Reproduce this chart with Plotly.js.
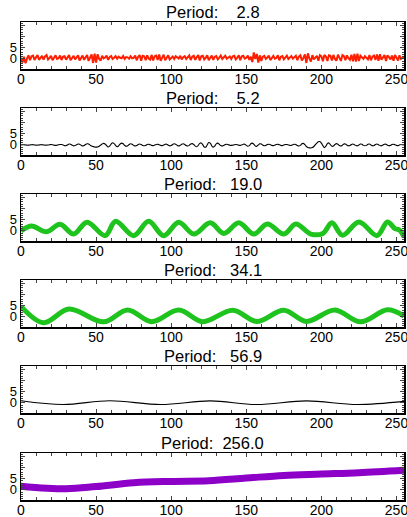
<!DOCTYPE html>
<html>
<head>
<meta charset="utf-8">
<script src="https://cdn.plot.ly/plotly-3.0.1.min.js"></script>
<style>html,body{margin:0;padding:0;background:#fff;}#chart{width:407px;height:517px;}</style>
</head>
<body>
<div id="chart"></div>
<script>
// ---- data ----
const periods = ["2.8", "5.2", "19.0", "34.1", "56.9", "256.0"];

const p1y = [
 0.5,-1.6,1.0,-1.9,0.1,1.6,-0.6,1.2,1.5,-0.5,0.7,1.7,-0.4,0.5,1.4,-0.3,
 1.2,1.8,-0.2,0.4,1.4,-0.6,0.8,1.6,0.0,0.3,1.5,-0.5,1.0,1.2,-0.3,0.6,
 1.7,-0.6,0.5,1.4,-0.2,1.0,1.6,-0.7,0.6,1.5,-0.4,0.4,1.7,-0.9,0.8,2.0,
 -1.8,2.3,-1.6,2.1,0.1,-0.8,1.4,0.2,0.6,1.5,-0.4,0.8,1.3,0.0,0.5,1.2,
 0.1,1.0,0.5,0.3,1.3,0.0,0.8,0.7,0.1,1.2,0.3,0.5,1.5,-0.6,1.0,1.7,
 -0.8,1.4,1.2,-0.6,1.6,0.2,-0.3,1.8,-0.7,1.2,1.5,-0.5,2.0,-0.8,0.6,1.9,
 -0.6,0.3,1.6,-0.2,0.5,1.1,0.0,1.2,0.7,0.2,1.4,-0.2,0.8,1.2,0.0,0.6,
 1.5,-0.5,1.0,1.4,-0.4,0.8,1.7,-0.7,1.2,1.4,-0.2,0.5,1.6,-0.6,0.8,1.5,
 -0.4,1.0,1.3,-0.2,0.6,1.5,0.0,0.5,1.4,0.1,0.8,1.1,0.0,1.2,1.4,-0.2,
 0.6,1.6,-0.6,1.2,1.4,0.1,0.5,1.5,-0.4,1.0,-1.4,2.9,0.0,2.2,-1.6,1.6,
 -0.9,1.0,1.4,0.0,0.6,1.5,-0.5,0.8,1.4,0.1,0.4,1.6,-0.6,1.0,1.3,-0.2,
 0.6,1.5,0.0,0.5,1.3,0.1,0.8,1.4,-0.5,1.0,1.6,-0.7,0.4,2.0,-1.8,2.5,
 0.2,-1.2,1.7,-0.2,0.6,1.4,-0.8,1.7,1.2,-1.0,1.8,1.1,-0.9,1.6,1.4,-0.7,
 1.8,0.0,-0.8,1.9,0.6,-0.9,1.7,1.2,-0.6,1.6,0.3,-0.4,1.9,-1.0,2.2,-1.2,
 2.3,-0.9,1.4,0.8,0.0,1.2,0.6,-0.2,1.7,-0.6,1.0,1.5,-0.4,2.0,-0.8,2.1,
 -0.4,0.5,1.7,-0.9,1.6,0.8,-0.2,1.5,-0.8,1.8,0.6,-0.7,1.6,0.0,0.5,1.1
];

const p2y = [
 0.0,0.1,0.1,0.0,-0.1,-0.1,0.0,0.1,0.1,0.0,-0.1,-0.1,0.0,0.1,0.1,0.0,
 -0.1,-0.1,0.0,0.1,0.2,0.1,-0.1,-0.2,-0.1,0.1,0.2,0.2,0.0,-0.3,-0.3,0.0,
 0.4,0.3,-0.1,-0.4,-0.3,0.1,0.4,0.3,-0.1,-0.5,-0.3,0.2,0.5,0.4,-0.1,-0.5,
 -0.7,-0.9,-1.0,-0.9,-0.6,-0.1,0.4,0.7,0.4,-0.3,-0.9,-0.5,0.4,1.0,0.6,-0.2,
 -0.8,-0.4,0.4,0.8,0.5,-0.2,-0.6,-0.4,0.2,0.5,0.3,-0.2,-0.5,-0.3,0.2,0.4,
 0.2,-0.2,-0.4,-0.2,0.2,0.3,0.1,-0.2,-0.3,-0.1,0.2,0.3,0.1,-0.2,-0.3,0.0,
 0.3,0.3,-0.1,-0.4,-0.3,0.2,0.5,0.3,-0.2,-0.5,-0.2,0.3,0.5,0.2,-0.3,-0.5,
 -0.2,0.4,0.6,0.2,-0.5,-0.8,-0.2,0.7,0.9,0.1,-0.9,-1.0,0.1,1.1,0.8,-0.4,
 -1.0,-0.5,0.5,0.8,0.3,-0.3,-0.5,-0.2,0.2,0.3,0.1,-0.1,-0.2,-0.1,0.1,0.2,
 0.1,-0.1,-0.2,0.0,0.3,0.3,-0.2,-0.6,-0.3,0.5,0.8,0.3,-0.5,-0.6,0.0,0.5,
 0.4,-0.1,-0.4,-0.2,0.2,0.3,0.1,-0.2,-0.3,-0.1,0.2,0.3,0.1,-0.2,-0.3,0.0,
 0.2,0.2,0.0,-0.2,-0.2,0.1,0.3,0.2,-0.3,-0.5,-0.2,0.5,0.7,0.1,-0.7,-1.1,
 -1.3,-1.4,-1.2,-0.7,0.1,0.8,1.4,1.5,0.8,-0.3,-1.2,-0.5,0.6,0.9,0.1,-0.6,
 -0.5,0.2,0.6,0.3,-0.3,-0.5,-0.1,0.4,0.4,-0.1,-0.4,-0.3,0.2,0.4,0.1,-0.3,
 -0.4,0.0,0.4,0.3,-0.2,-0.4,-0.2,0.3,0.4,0.0,-0.4,-0.3,0.2,0.4,0.1,-0.3,
 -0.4,0.0,0.3,0.3,-0.1,-0.3,-0.2,0.2,0.3,0.1,-0.2,-0.3,0.0,0.2,0.1,0.0
];

const p3x = [0,7,17,26,35,44,56,63,75,85,95,105,115,126,135,145,155,164,175,183,193,201,207,214,225,237,244,249,252,255];
const p3y = [0.0,2.2,-0.4,3.0,-1.4,3.9,-2.1,4.3,-2.1,4.3,-2.1,3.9,-1.4,3.6,-1.1,3.6,-1.4,3.1,-1.4,3.1,-1.4,-1.1,3.6,-1.9,4.0,-2.1,4.0,1.0,0.4,-2.6];

const p4x = [0,15,32,55,71,87,105,121,141,157,175,190,209,226,244,255];
const p4y = [4.7,-2.6,3.5,-2.2,3.1,-2.1,3.1,-2.1,3.0,-2.0,3.0,-2.0,3.1,-2.2,3.2,0.4];

const p5x = [0,28,59,93,126,157,190,224,255];
const p5y = [1.0,-0.7,1.0,-0.7,0.9,-0.7,0.9,-0.7,0.7];

const p6x = [0,30,50,75,100,125,150,175,200,225,255];
const p6y = [1.7,0.5,1.5,3.2,3.8,4.1,5.3,6.5,7.1,7.7,8.8];

const xTickVals = [0,50,100,150,200,250];
const yTickVals = [-5,0,5,10,15];
const yTickText = ["","0","5","",""];

// ---- figure ----
const H = 517;
const tops = [22,108,194,280,366,453];
const ph = 47;
const colors = ["#ff1e00","#000000","#1ec31e","#1ec31e","#000000","#8c00c8"];
const widths = [2,1.1,5,5,1.1,7];
const shapes = ["linear","spline","spline","spline","spline","spline"];
const xs = [null,null,p3x,p4x,p5x,p6x];
const ys = [p1y,p2y,p3y,p4y,p5y,p6y];

const fam = "Liberation Sans, Arial, Helvetica, sans-serif";
const font = {family:fam, size:14, color:"#000"};
const yfont = {family:fam, size:13, color:"#000"};
const traces = [];
const layout = {
  width:407, height:517,
  margin:{l:21,r:3,t:0,b:0},
  paper_bgcolor:"#fff", plot_bgcolor:"#fff",
  showlegend:false, font:font, annotations:[]
};

for (let i=0;i<6;i++){
  const n = i===0 ? "" : String(i+1);
  const tr = {
    y: ys[i], mode:"lines",
    line:{color:colors[i], width:widths[i], shape:shapes[i], smoothing:1},
    xaxis:"x"+n, yaxis:"y"+n, hoverinfo:"skip"
  };
  if (xs[i]) tr.x = xs[i];
  traces.push(tr);
  const d0 = 1-(tops[i]+ph)/H, d1 = 1-tops[i]/H;
  layout["xaxis"+n] = {
    domain:[0,1], anchor:"y"+n, range:[0,255],
    tickmode:"array", tickvals:xTickVals, ticks:"inside", ticklen:4, tickwidth:1,
    minor:{tickmode:"linear", tick0:0, dtick:10, ticks:"inside", ticklen:3, tickwidth:1, showgrid:false},
    showline:true, linecolor:"#000", linewidth:1.5, mirror:"allticks",
    showgrid:false, zeroline:false, tickfont:font, fixedrange:true,
    ticklabeloverflow:"allow", ticklabelstandoff:-3
  };
  layout["yaxis"+n] = {
    domain:[d0,d1], anchor:"x"+n, range:[-4.5,16.5],
    tickmode:"array", tickvals:yTickVals, ticktext:yTickText, ticks:"inside", ticklen:4, tickwidth:1,
    minor:{tickmode:"linear", tick0:0, dtick:1, ticks:"inside", ticklen:2, tickwidth:1, showgrid:false},
    showline:true, linecolor:"#000", linewidth:1.5, mirror:"allticks",
    showgrid:false, zeroline:false, tickfont:yfont, fixedrange:true
  };
  let p = periods[i];
  while (p.length < 6) p = "\u00a0" + p;
  layout.annotations.push({
    text:"Period:\u00a0" + p, xref:"paper", yref:"paper", x:0.5, y:d1,
    xanchor:"center", yanchor:"bottom", showarrow:false, yshift:-1,
    font:{family:fam, size:16.5, color:"#000"}
  });
}

Plotly.newPlot("chart", traces, layout, {staticPlot:true, displayModeBar:false});
</script>
</body>
</html>
